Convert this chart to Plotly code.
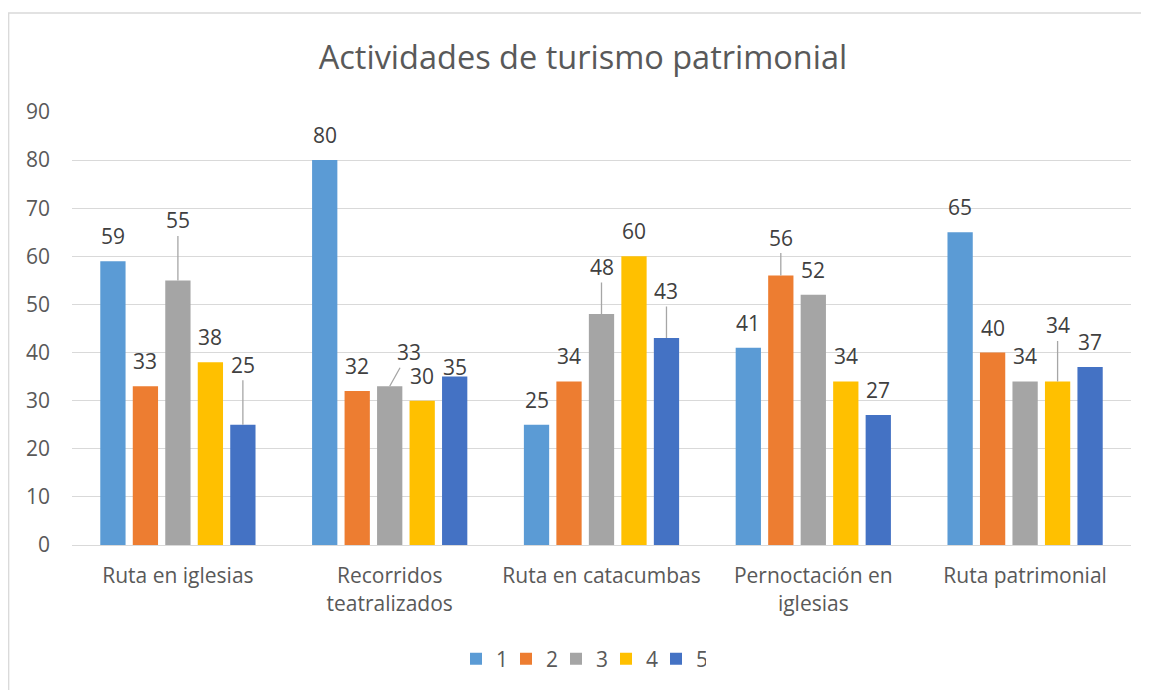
import plotly.graph_objects as go

categories = ["Ruta en iglesias", "Recorridos<br>teatralizados", "Ruta en catacumbas",
              "Pernoctación en<br>iglesias", "Ruta patrimonial"]
series_names = ["1", "2", "3", "4", "5"]
s1 = [59, 80, 25, 41, 65]
s2 = [33, 32, 34, 56, 40]
s3 = [55, 33, 48, 52, 34]
s4 = [38, 30, 60, 34, 34]
s5 = [25, 35, 43, 27, 37]
series_values = [s1, s2, s3, s4, s5]
y_ticks = [0, 10, 20, 30, 40, 50, 60, 70, 80, 90]

colors = ["#5B9BD5", "#ED7D31", "#A5A5A5", "#FFC000", "#4472C4"]

# label placement (pixel offsets), style only: (series, category) -> (dx, dy, leader)
label_offsets = {
    (2, 0): (0, 60, True), (4, 0): (0, 60, True),
    (2, 1): (19, 34, True), (4, 1): (0, 10, False),
    (2, 2): (0, 47, True), (4, 2): (0, 47, True),
    (1, 3): (0, 38, True), (3, 4): (0, 56, True),
}
default_offset = 25

# page body has an 8px margin, so the figure is sized/offset accordingly
W, H = 1141, 682
ML, MR, MT, MB = 64, 18, 104, 145
bargap = 0.233
bargroupgap = 0.222
font_family = "Open Sans, Noto Sans, sans-serif"
num_size = 21

fig = go.Figure()
for name, vals, col in zip(series_names, series_values, colors):
    fig.add_trace(go.Bar(name=name, x=categories, y=vals, marker=dict(color=col, line=dict(width=0))))

plot_w = W - ML - MR
plot_h = H - MT - MB
cat_px = plot_w / len(categories)
slot_px = cat_px * (1 - bargap) / len(series_names)

annotations = []
for i, vals in enumerate(series_values):
    xs = (i - (len(series_names) - 1) / 2) * slot_px
    for j, v in enumerate(vals):
        dx, dy, leader = label_offsets.get((i, j), (0, default_offset, False))
        if leader:
            annotations.append(dict(
                x=categories[j], y=v, xref="x", yref="y", xshift=xs,
                text=str(v), showarrow=True, arrowhead=0, arrowwidth=1.3,
                arrowcolor="#A6A6A6", ax=dx, ay=-dy, standoff=0,
                font=dict(size=num_size, color="#404040", family=font_family)))
        else:
            annotations.append(dict(
                x=categories[j], y=v, xref="x", yref="y", xshift=xs + dx, yshift=dy,
                text=str(v), showarrow=False, yanchor="middle",
                font=dict(size=num_size, color="#404040", family=font_family)))

fig.update_layout(
    width=W, height=H,
    margin=dict(l=ML, r=MR, t=MT, b=MB),
    paper_bgcolor="white", plot_bgcolor="white",
    barmode="group", bargap=bargap, bargroupgap=bargroupgap,
    title=dict(text="Actividades de turismo patrimonial", x=575 / W, xref="container", xanchor="center",
               y=1 - 50 / H, yref="container", yanchor="middle",
               font=dict(size=32.5, color="#595959", family=font_family)),
    font=dict(family=font_family, color="#595959", size=20),
    legend=dict(orientation="h", x=573 / W, xref="container", xanchor="center",
                y=1 - 651 / H, yref="container", yanchor="middle",
                font=dict(size=num_size, color="#595959"), itemwidth=30, entrywidth=5,
                traceorder="normal"),
    annotations=annotations,
    showlegend=True,
)
fig.update_yaxes(range=[0, 90], tickvals=y_ticks, showgrid=True, gridcolor="#D9D9D9", gridwidth=1.3,
                 zeroline=False, showline=False, ticks="", ticklabelstandoff=21,
                 tickfont=dict(size=num_size, color="#595959"), fixedrange=True)
fig.update_xaxes(showgrid=False, showline=True, linecolor="#D9D9D9", linewidth=1.3, ticks="",
                 ticklabelstandoff=12, tickfont=dict(size=21, color="#595959"), tickangle=0)

# chart border
fig.add_shape(type="rect", xref="paper", yref="paper",
              x0=(0.7 - ML) / plot_w, x1=(W + 20 - ML) / plot_w,
              y0=(plot_h + MT - (H + 20)) / plot_h, y1=(plot_h + MT - 5) / plot_h,
              line=dict(color="#D9D9D9", width=1.3), fillcolor="rgba(0,0,0,0)", layer="below")

fig.write_html("out.html")
